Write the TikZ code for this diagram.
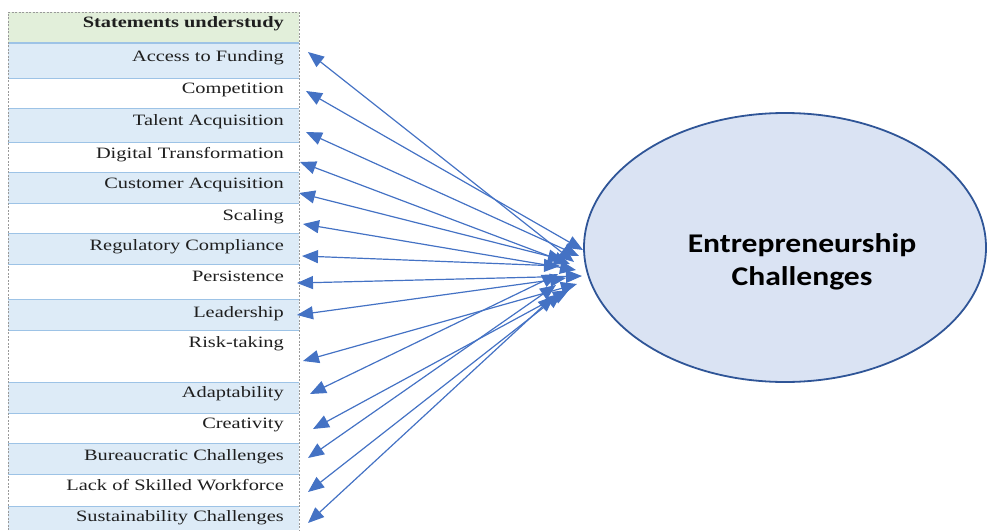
\documentclass[tikz,border=0pt]{standalone}
\usepackage{fontspec}
\newfontfamily\rowfont[FakeStretch=1.29]{Liberation Serif}
\newfontfamily\ellfont[FakeStretch=1.17]{Carlito}
\usetikzlibrary{arrows.meta,shapes.geometric}
\definecolor{rowblue}{HTML}{DDEBF7}
\definecolor{hdrgreen}{HTML}{E2EFDA}
\definecolor{gridblue}{HTML}{9DC3E6}
\definecolor{arrowblue}{HTML}{4472C4}
\definecolor{ellfill}{HTML}{DAE3F3}
\definecolor{elldraw}{HTML}{2F5597}
\begin{document}
\begin{tikzpicture}[x=1pt,y=-1pt,
  itemtext/.style={anchor=base east, inner sep=0pt,
    font=\rowfont\fontsize{15.8}{18}\selectfont, text=black!88},
  link/.style={arrowblue, line width=1.2pt,
    {Triangle[length=16pt,width=13pt]}-{Triangle[length=16pt,width=13pt]}},
  border/.style={gray!80, line width=0.8pt, dash pattern=on 2pt off 1.5pt},
]
\useasboundingbox (0,0) rectangle (987,530);

% header row
\fill[hdrgreen] (8,12) rectangle (299,42);
\node[itemtext, font=\rowfont\bfseries\fontsize{15.8}{18}\selectfont] (hdr) at (284,27.5) {Statements understudy};

% item rows: top/bottom/fill/baseline/index/label/left tip/right tip
\foreach \t/\b/\f/\y/\n/\txt/\ax/\ay/\bx/\by in {
  43/78/rowblue/61.5/1/Access to Funding/308/52/574/262,
  78/108/white/93.5/2/Competition/306/91/583/250,
  108/142/rowblue/125/3/Talent Acquisition/306/132/579/256,
  142/172/white/158/4/Digital Transformation/300/162/570/264,
  172/203/rowblue/188/5/Customer Acquisition/299/193/564/260,
  203/233/white/220/6/Scaling/303/224/576/270,
  233/264/rowblue/250/7/Regulatory Compliance/302/256/560/266,
  264/299/white/281/8/Persistence/297/283/582/276,
  299/330/rowblue/317/9/Leadership/297/315/566/278,
  330/382/white/347/10/Risk-taking/303/361/577/284,
  382/413/rowblue/397/11/Adaptability/310/394/558/274,
  413/443/white/428/12/Creativity/313/429/569/290,
  443/474/rowblue/460/13/Bureaucratic Challenges/308/458/556/285,
  474/506/white/490/14/Lack of Skilled Workforce/308/492/562/293,
  506/530/rowblue/521/15/Sustainability Challenges/308/523/554/296}
{
  \fill[\f] (8,\t) rectangle (299,\b);
  \draw[gridblue, line width=0.9pt] (8,\t) -- (299,\t);
  \node[itemtext] (r\n) at (284,\y) {\txt};
  \coordinate (a\n) at (\ax,\ay);
  \coordinate (b\n) at (\bx,\by);
}
\draw[gridblue, line width=2.6pt] (8,43) -- (299,43);

% dashed table frame
\draw[border] (8,530) -- (8,12) -- (299,12) -- (299,530);

% construct
\node[ellipse, draw=elldraw, fill=ellfill, line width=1.8pt,
  minimum width=402pt, minimum height=269pt, inner sep=0pt] (ec) at (785,247.5) {};
\node[align=center, inner sep=0pt, font=\ellfont\bfseries\fontsize{27}{32.5}\selectfont,
  anchor=base] (ect) at (802,285) {Entrepreneurship\\Challenges};

% two-headed links
\foreach \n in {1,...,15}{
  \draw[link] (a\n) -- (b\n);
}
\end{tikzpicture}
\end{document}
